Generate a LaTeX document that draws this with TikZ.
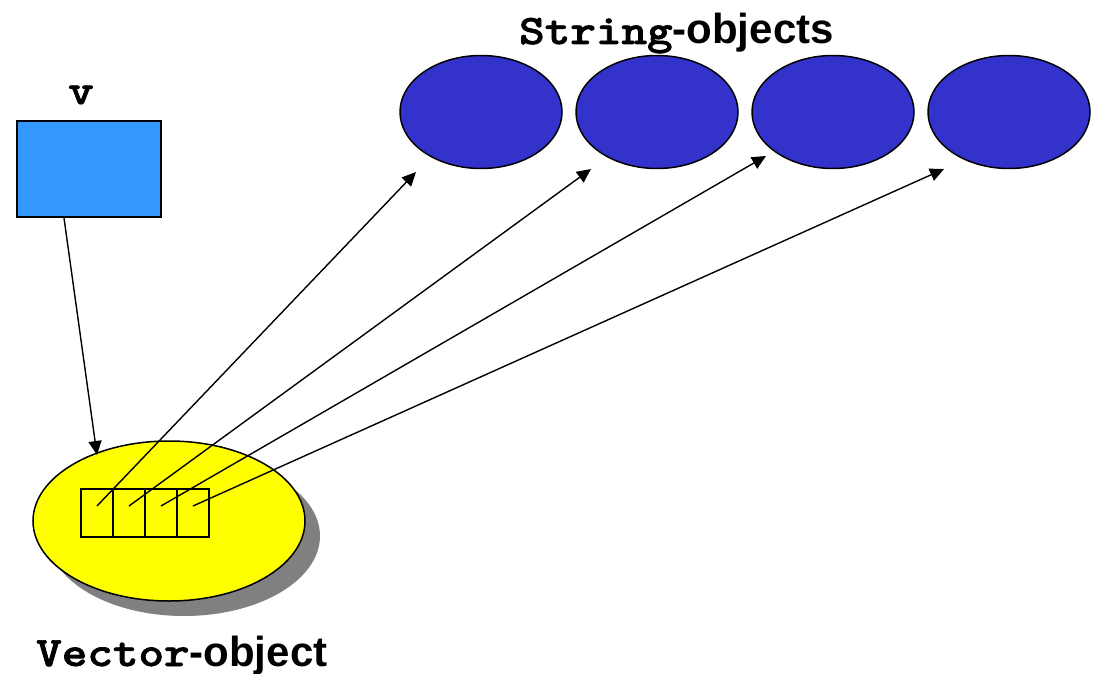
\documentclass[tikz,border=0pt]{standalone}
\usepackage{fontspec}
\usepackage{graphicx}
\usetikzlibrary{shapes.geometric,arrows.meta}
\newfontfamily\sansb{Liberation Sans}
\newfontfamily\courb[Extension=.otf, FakeBold=1.6]{lmmonolt10-bold}
\newcommand{\courw}[1]{\scalebox{1.16}[1]{\courb #1}}
\definecolor{vblue}{HTML}{3399FF}
\definecolor{sblue}{HTML}{3333CC}
\definecolor{vyellow}{HTML}{FFFF00}
\definecolor{shadowgray}{HTML}{808080}
\tikzset{
  strobj/.style={ellipse, draw=black, line width=1.5pt, fill=sblue, minimum width=162pt, minimum height=113pt, inner sep=0pt},
  cell/.style={rectangle, draw=black, line width=1.5pt, minimum width=32pt, minimum height=48pt, inner sep=0pt},
  ptr/.style={line width=1.4pt, -{Triangle[length=14pt,width=13pt]}},
  lbl/.style={font=\fontsize{42}{48}\selectfont, inner sep=0pt}
}
\begin{document}
\begin{tikzpicture}[x=1pt,y=-1pt]
\useasboundingbox (0,0) rectangle (1093,674);
% v variable
\node[lbl, anchor=base] (vlab) at (81,104) {\courw{v}};
\node[rectangle, draw=black, line width=2pt, fill=vblue, minimum width=144pt, minimum height=96pt, inner sep=0pt] (v) at (89,169) {};
% string objects
\node[lbl, anchor=base west] (slab) at (519,44) {\courw{String}\sansb\bfseries-objects};
\node[strobj] (s1) at (481,112) {};
\node[strobj] (s2) at (657,112) {};
\node[strobj] (s3) at (833,112) {};
\node[strobj] (s4) at (1009,112) {};
% vector object
\node[ellipse, fill=shadowgray, minimum width=272pt, minimum height=160pt, inner sep=0pt] (shadow) at (184,536) {};
\node[ellipse, draw=black, line width=1.5pt, fill=vyellow, minimum width=272pt, minimum height=160pt, inner sep=0pt] (vec) at (169,521) {};
\node[cell] (c1) at (97,513) {};
\node[cell] (c2) at (129,513) {};
\node[cell] (c3) at (161,513) {};
\node[cell] (c4) at (193,513) {};
\node[lbl, anchor=base west] (vclab) at (36,666) {\courw{Vector}\sansb\bfseries-object};
% pointer origins and tips
\coordinate (p1) at (97,506);
\coordinate (p2) at (129,506);
\coordinate (p3) at (161,506);
\coordinate (p4) at (193,506);
\coordinate (t1) at (416,172);
\coordinate (t2) at (591,169);
\coordinate (t3) at (766,156);
\coordinate (t4) at (944,169);
\coordinate (vt) at (97,455);
\coordinate (vs) at ([xshift=48pt]v.south west);
\draw[ptr] (vs) -- (vt);
\draw[ptr] (p1) -- (t1);
\draw[ptr] (p2) -- (t2);
\draw[ptr] (p3) -- (t3);
\draw[ptr] (p4) -- (t4);
\end{tikzpicture}
\end{document}
